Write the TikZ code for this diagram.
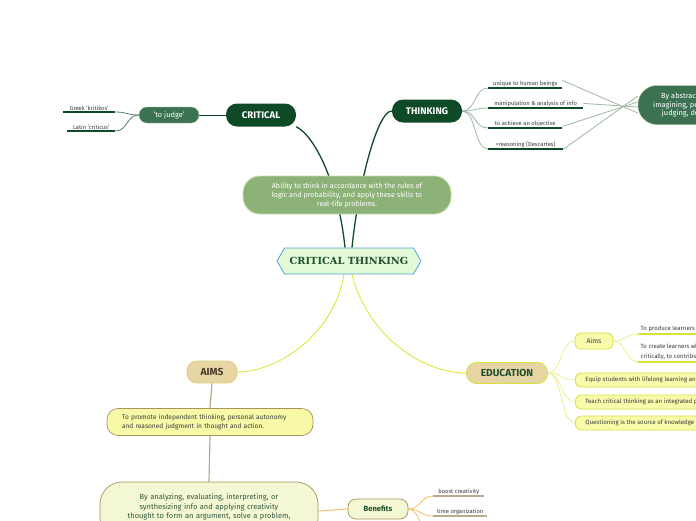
\documentclass[tikz,border=0pt]{standalone}
\usepackage{fontspec}
\setmainfont{Fira Sans}
\newfontfamily\slabfont{DejaVu Serif}
\usetikzlibrary{positioning,shapes.symbols,backgrounds}
\definecolor{dkgreen}{HTML}{0F4A26}
\definecolor{midgreen}{HTML}{3C7252}
\definecolor{defgreen}{HTML}{8DB277}
\definecolor{defedge}{HTML}{C3DFA6}
\definecolor{ctfill}{HTML}{E4FAD6}
\definecolor{ctedge}{HTML}{4BA4DE}
\definecolor{cttext}{HTML}{1F4F2E}
\definecolor{tan}{HTML}{E8D5A6}
\definecolor{tanedge}{HTML}{DCCF7E}
\definecolor{brownish}{HTML}{4A3A2A}
\definecolor{lemon}{HTML}{E2E84B}
\definecolor{lemonpale}{HTML}{ECEF92}
\definecolor{lemonfill}{HTML}{F7FBAA}
\definecolor{lemonedge}{HTML}{D8E23F}
\definecolor{promfill}{HTML}{F7F9A6}
\definecolor{brownedge}{HTML}{A8925E}
\definecolor{palefill}{HTML}{F4F7D4}
\definecolor{stem}{HTML}{B8AA90}
\definecolor{orangeline}{HTML}{F6BE6A}
\definecolor{greyline}{HTML}{9DB7A6}
\definecolor{darktext}{HTML}{3A3A3A}
\begin{document}
\begin{tikzpicture}[x=1pt,y=-1pt,
  topic/.style={fill=dkgreen,text=white,rounded corners=11pt,minimum width=70pt,
    minimum height=23pt,inner sep=0pt,font=\bfseries\fontsize{9.6}{10}\selectfont},
  subgreen/.style={fill=midgreen,draw=defedge!70!midgreen,text=white,rounded corners=8pt,
    inner sep=0pt,font=\fontsize{7.4}{8.6}\selectfont},
  leaf/.style={inner sep=1.5pt,font=\fontsize{5.8}{7}\selectfont,text=darktext},
  tanbox/.style={fill=tan,rounded corners=10pt,inner sep=0pt,line width=0.9pt,
    minimum height=22pt,font=\bfseries\fontsize{10.2}{11}\selectfont},
  lemonbox/.style={fill=lemonfill,draw=lemonedge,line width=0.8pt,rounded corners=6pt,
    inner sep=0pt,font=\fontsize{6.1}{7}\selectfont,text=darktext},
  link/.style={line width=0.8pt},
  uline/.style={line width=1.3pt}]
\useasboundingbox (0,0) rectangle (696,520);

% centre and definition
\node[signal,signal to=west and east,signal pointer angle=120,fill=ctfill,draw=ctedge,
      line width=0.8pt,minimum width=144pt,minimum height=26pt,inner sep=0pt,
      text=cttext,font=\slabfont\bfseries\fontsize{9.8}{11}\selectfont] (ct) at (349,261) {CRITICAL THINKING};
\node[fill=defgreen,draw=defedge,line width=0.8pt,rounded corners=17pt,minimum width=208pt,
      minimum height=38pt,align=center,text=white,inner sep=0pt,
      font=\fontsize{7.2}{9}\selectfont] (def) at (347,195)
      {Ability to think in accordance with the rules of\\logic and probability, and apply these skills to\\real-life problems.};

% critical branch
\node[topic] (crit) at (261,115) {CRITICAL};
\node[subgreen,minimum width=60pt,minimum height=16pt] (judge) at (169,115) {'to judge'};
\node[leaf,anchor=south west,minimum width=52pt] (greek) at (63,112) {Greek 'kritikos'};
\node[leaf,anchor=south west,minimum width=48pt] (latin) at (67,131) {Latin 'criticus'};

% thinking branch
\node[topic] (think) at (427,111) {THINKING};
\node[leaf,anchor=south west,minimum width=74pt] (human) at (488,88) {unique to human beings};
\node[leaf,anchor=south west,minimum width=95pt] (manip) at (488,108) {manipulation \& analysis of info};
\node[leaf,anchor=south west,minimum width=74pt] (objective) at (488,128) {to achieve an objective};
\node[leaf,anchor=south west,minimum width=75pt] (descartes) at (488,149) {=reasoning (Descartes)};
\node[subgreen,rounded corners=19pt,minimum width=140pt,minimum height=39pt,align=center] (abstract) at (708,105)
      {By abstracting, generalizing,\\imagining, perceiving, reasoning,\\judging, deducing, deciding};

% aims branch
\node[tanbox,draw=tanedge,minimum width=50pt,text=brownish] (aims) at (212,372) {AIMS};
\node[fill=promfill,draw=brownedge,line width=0.7pt,rounded corners=11pt,minimum width=206pt,
      minimum height=27pt,text width=176pt,align=left,inner sep=0pt,text=darktext,
      font=\fontsize{6.6}{8.4}\selectfont] (promote) at (210,422)
      {To promote independent thinking, personal autonomy\\and reasoned judgment in thought and action.};
\node[fill=palefill,draw=brownedge,line width=0.7pt,rounded corners=22pt,minimum width=218pt,
      minimum height=58pt,text width=200pt,align=center,inner sep=0pt,text=cttext!80!gray,
      font=\fontsize{7.5}{9.6}\selectfont] (analyze) at (209,511)
      {By analyzing, evaluating, interpreting, or\\synthesizing info and applying creativity\\thought to form an argument, solve a problem,\\or reach a conclusion.};
\node[fill=palefill,draw=brownedge,line width=0.7pt,rounded corners=8pt,minimum width=60pt,
      minimum height=20pt,inner sep=0pt,text=cttext,font=\bfseries\fontsize{7.6}{8}\selectfont] (benefits) at (378,509) {Benefits};
\node[leaf,anchor=south west,minimum width=51pt] (boost) at (433,496) {boost creativity};
\node[leaf,anchor=south west,minimum width=54pt] (timeorg) at (433,516) {time organization};
\coordinate (nextben) at (433,536);

% education branch
\node[tanbox,draw=lemonedge,minimum width=81pt,minimum height=21pt,text=cttext] (edu) at (507,373) {EDUCATION};
\node[lemonbox,minimum width=38pt,minimum height=16pt,font=\fontsize{6.8}{8}\selectfont] (eaims) at (594,341) {Aims};
\node[leaf,anchor=south west,align=left,inner sep=2.5pt,font=\fontsize{6}{10}\selectfont] (produce) at (638,334) {To produce learners who think independently};
\node[leaf,anchor=south west,align=left,inner sep=2.5pt,font=\fontsize{6}{10}\selectfont] (create) at (638,362)
      {To create learners who can think\\critically, to contribute to society};
\node[lemonbox,anchor=west,minimum height=14pt,inner xsep=10pt] (equip) at (575,380)
      {Equip students with lifelong learning and thinking skills};
\node[lemonbox,anchor=west,minimum height=14pt,inner xsep=10pt] (teach) at (575,402)
      {Teach critical thinking as an integrated part of the curriculum};
\node[lemonbox,anchor=west,minimum height=14pt,inner xsep=10pt] (question) at (575,423)
      {Questioning is the source of knowledge};

% connectors
\begin{scope}[on background layer]
  \draw[dkgreen,line width=1.3pt] ([xshift=-4pt]ct.north) .. controls +(-6,-60) and +(20,10) .. (crit.south east);
  \draw[dkgreen,line width=1.3pt] ([xshift=3pt]ct.north) .. controls +(6,-60) and +(-15,0) .. (think.west);
  \draw[link,dkgreen] (crit.west) -- (judge.east);
  \draw[link,dkgreen!70] (judge.west) .. controls +(-12,0) and +(12,0) .. (greek.south east);
  \draw[link,dkgreen!70] (judge.west) .. controls +(-12,0) and +(12,0) .. (latin.south east);
  \foreach \n in {greek,latin} \draw[uline,dkgreen] (\n.south west) -- (\n.south east);
  \foreach \n in {human,manip,objective,descartes} {
    \draw[link,greyline] (think.east) .. controls +(14,0) and +(-14,0) .. (\n.south west);
    \draw[uline,dkgreen] (\n.south west) -- (\n.south east);
  }
  \draw[link,greyline] ([yshift=3pt]human.east) -- ([yshift=-8pt]abstract.west);
  \draw[link,greyline] (manip.east) -- ([yshift=-2pt]abstract.west);
  \draw[link,greyline] ([yshift=-3pt]objective.east) -- ([yshift=3pt]abstract.west);
  \draw[link,greyline] ([yshift=-5pt]descartes.east) -- ([yshift=9pt]abstract.west);
  \draw[lemon,line width=1pt] ([xshift=-5pt]ct.south) .. controls +(-10,60) and +(40,0) .. (aims.east);
  \draw[lemon,line width=1pt] ([xshift=3pt]ct.south) .. controls +(15,60) and +(-45,0) .. (edu.west);
  \draw[stem,line width=1.2pt] (aims.south) -- (promote.north);
  \draw[stem,line width=1.2pt] (promote.south) -- (analyze.north);
  \draw[orangeline,line width=1pt] (analyze.east) -- (benefits.west);
  \foreach \n in {boost,timeorg} {
    \draw[link,orangeline] (benefits.east) .. controls +(12,0) and +(-12,0) .. (\n.south west);
    \draw[uline,stem] (\n.south west) -- (\n.south east);
  }
  \draw[link,orangeline] (benefits.east) .. controls +(12,0) and +(-12,0) .. (nextben);
  \foreach \n in {eaims,equip,teach,question}
    \draw[link,lemonpale] (edu.east) .. controls +(14,0) and +(-14,0) .. (\n.west);
  \foreach \n in {produce,create} {
    \draw[link,lemonpale] (eaims.east) .. controls +(12,0) and +(-12,0) .. (\n.south west);
    \draw[uline,lemonedge] (\n.south west) -- (\n.south east);
  }
\end{scope}
\end{tikzpicture}
\end{document}
